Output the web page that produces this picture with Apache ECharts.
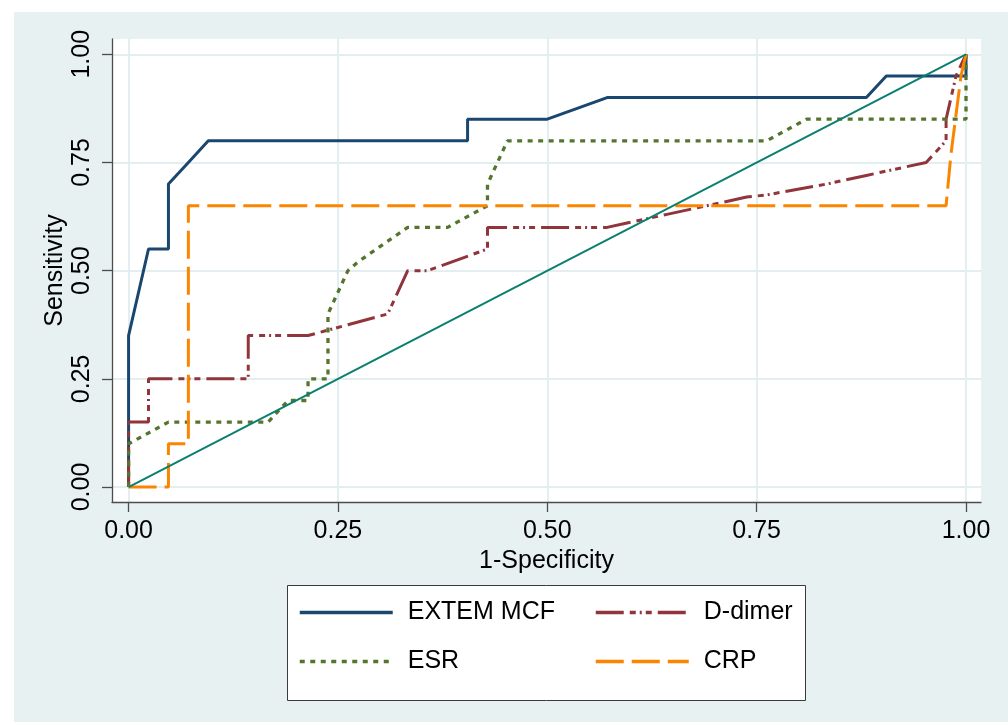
<!DOCTYPE html>
<html>
<head>
<meta charset="utf-8">
<script src="https://cdn.jsdelivr.net/npm/echarts@6/dist/echarts.min.js"></script>
<style>
  html, body { margin: 0; padding: 0; background: #ffffff; }
  #wrap { position: relative; width: 1008px; height: 725px; background: #ffffff; }
  #bg { position: absolute; left: 14px; top: 12px; width: 994px; height: 710px; background: #e7f1f2; }
  #chart { position: absolute; left: 0; top: 0; width: 1008px; height: 725px; }
</style>
</head>
<body>
<div id="wrap"><div id="bg"></div><div id="chart"></div></div>
<script>
// ---- data ----
const xTicks = [0, 0.25, 0.5, 0.75, 1];
const yTicks = [0, 0.25, 0.5, 0.75, 1];
const seriesNames = ['EXTEM MCF', 'D-dimer', 'ESR', 'CRP'];
const extemMCF = [[0,0],[0,0.35],[0.0238,0.55],[0.0476,0.55],[0.0476,0.70],[0.0714,0.75],[0.0952,0.80],[0.4048,0.80],[0.4048,0.85],[0.5,0.85],[0.5714,0.90],[0.881,0.90],[0.9048,0.95],[1,0.95],[1,1]];
const dDimer = [[0,0],[0,0.15],[0.0238,0.15],[0.0238,0.25],[0.1429,0.25],[0.1429,0.35],[0.2143,0.35],[0.2619,0.375],[0.3095,0.40],[0.3333,0.50],[0.3571,0.50],[0.4286,0.55],[0.4286,0.60],[0.5714,0.60],[0.5952,0.61],[0.6429,0.63],[0.6905,0.65],[0.7381,0.67],[0.7619,0.675],[0.8333,0.70],[0.881,0.72],[0.9048,0.73],[0.9524,0.75],[0.9762,0.80],[0.9762,0.85],[0.9881,0.95],[1,1]];
const esr = [[0,0],[0,0.10],[0.0476,0.15],[0.1667,0.15],[0.1905,0.20],[0.2143,0.20],[0.2143,0.25],[0.2381,0.25],[0.2381,0.40],[0.2619,0.50],[0.2738,0.52],[0.3333,0.60],[0.381,0.60],[0.4286,0.65],[0.4286,0.70],[0.4524,0.80],[0.7619,0.80],[0.8095,0.85],[1,0.85],[1,1]];
const crp = [[0,0],[0.0476,0],[0.0476,0.10],[0.0714,0.10],[0.0714,0.65],[0.9762,0.65],[0.9821,0.77],[0.9940,0.95],[1,1]];
const refLine = [[0,0],[1,1]];

const FONT = 'Liberation Sans, Arial, sans-serif';
const FS = 25;
const chart = echarts.init(document.getElementById('chart'), null, { renderer: 'canvas' });

const axisCommon = {
  type: 'value',
  nameLocation: 'middle',
  nameTextStyle: { fontFamily: FONT, fontSize: FS, color: '#000' },
  axisLine: { show: true, onZero: false, lineStyle: { color: '#4d4d4d', width: 1.3 } },
  axisTick: { show: true, inside: false, length: 10, lineStyle: { color: '#4d4d4d', width: 1.3 } },
  splitLine: { show: true, lineStyle: { color: '#e3eef0', width: 2 } },
};

const legendCommon = {
  orient: 'vertical', top: 600, padding: 0, z: 5,
  itemWidth: 93, itemHeight: 24, itemGap: 24,
  itemStyle: { opacity: 0 },
  lineStyle: { width: 3.5 },
  textStyle: { fontFamily: FONT, fontSize: FS, color: '#000', padding: [0,0,0,10] }
};

chart.setOption({
  animation: false,
  grid: {
    left: 112, right: 27, top: 39, bottom: 223,
    containLabel: false, outerBoundsMode: 'none',
    show: true, backgroundColor: '#ffffff', borderWidth: 0
  },
  xAxis: Object.assign({}, axisCommon, {
    name: '1-Specificity', nameGap: 41,
    min: -0.0198, max: 1.0179,
    axisTick: Object.assign({}, axisCommon.axisTick, { customValues: xTicks }),
    axisLabel: { customValues: xTicks, margin: 17, fontFamily: FONT, fontSize: FS, color: '#000',
      formatter: v => v.toFixed(2) }
  }),
  yAxis: Object.assign({}, axisCommon, {
    name: 'Sensitivity', nameGap: 44, nameMoveOverlap: false,
    min: -0.0346, max: 1.0353,
    axisTick: Object.assign({}, axisCommon.axisTick, { customValues: yTicks }),
    axisLabel: { customValues: yTicks, rotate: 90, margin: 17, fontFamily: FONT, fontSize: FS, color: '#000',
      formatter: v => v.toFixed(2) }
  }),
  graphic: [{
    type: 'rect', z: 1,
    shape: { x: 287.5, y: 585.5, width: 518, height: 115 },
    style: { fill: '#ffffff', stroke: '#3a3a3a', lineWidth: 1 }
  }],
  legend: [
    Object.assign({}, legendCommon, { left: 298, data: [seriesNames[0], seriesNames[2]] }),
    Object.assign({}, legendCommon, { left: 594, data: [seriesNames[1], seriesNames[3]] })
  ],
  series: [
    { name: seriesNames[0], type: 'line', data: extemMCF, symbol: 'none', color: '#1a476f',
      lineStyle: { color: '#1a476f', width: 3, type: 'solid' } },
    { name: seriesNames[1], type: 'line', data: dDimer, symbol: 'none', color: '#90353b',
      lineStyle: { color: '#90353b', width: 3, type: [28, 6, 6, 4, 2, 4, 6, 6] } },
    { name: seriesNames[2], type: 'line', data: esr, symbol: 'none', color: '#55752f',
      lineStyle: { color: '#55752f', width: 3.3, type: [5, 5.5] } },
    { name: seriesNames[3], type: 'line', data: crp, symbol: 'none', color: '#fb8500',
      lineStyle: { color: '#fb8500', width: 3, type: [28, 8] } },
    { name: 'reference', type: 'line', data: refLine, symbol: 'none', color: '#0a7f70',
      lineStyle: { color: '#0a7f70', width: 2, type: 'solid' } }
  ]
});
</script>
</body>
</html>
